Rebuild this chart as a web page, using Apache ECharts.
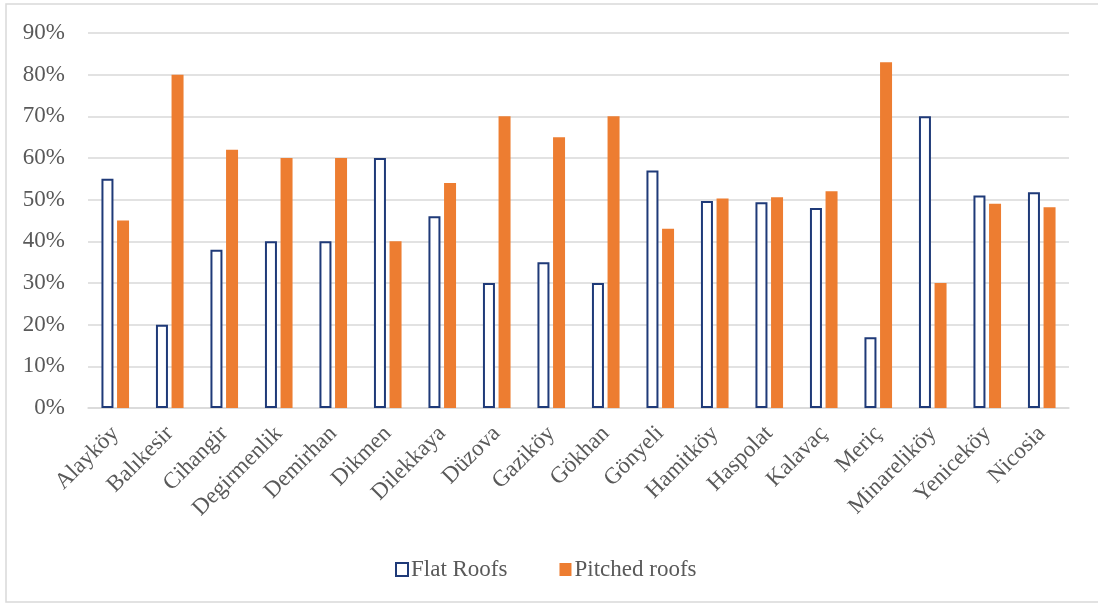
<!DOCTYPE html>
<html>
<head>
<meta charset="utf-8">
<script src="https://cdn.jsdelivr.net/npm/echarts@6/dist/echarts.min.js"></script>
<style>
  html, body { margin: 0; padding: 0; background: #fff; }
  #chart { width: 1098px; height: 604px; }
</style>
</head>
<body>
<div id="chart"></div>
<script>
// villages
var categories = ["Alayköy", "Balıkesir", "Cihangir", "Degirmenlik", "Demirhan", "Dikmen",
  "Dilekkaya", "Düzova", "Gaziköy", "Gökhan", "Gönyeli", "Hamitköy", "Haspolat",
  "Kalavaç", "Meriç", "Minareliköy", "Yeniceköy", "Nicosia"];
// shares in %
var flatRoofs = [55, 20, 38, 40, 40, 60, 46, 30, 35, 30, 57, 49.7, 49.4, 48, 17, 70, 51, 51.8];
var pitchedRoofs = [45, 80, 62, 60, 60, 40, 54, 70, 65, 70, 43, 50.3, 50.6, 52, 83, 30, 49, 48.2];
var yTicks = [0, 10, 20, 30, 40, 50, 60, 70, 80, 90];

var font = "'Liberation Serif', 'Times New Roman', serif";
var textColor = "#595959";

var myChart = echarts.init(document.getElementById("chart"));
var option = {
  animation: false,
  textStyle: { fontFamily: font },
  grid: { left: 88, right: 29, top: 33, bottom: 196 },
  // outer chart frame
  graphic: [{
    type: "rect",
    shape: { x: 6, y: 4, width: 1100, height: 598 },
    style: { fill: "none", stroke: "#d9d9d9", lineWidth: 1.5 },
    silent: true
  }],
  legend: {
    top: 553,
    left: 390,
    itemWidth: 12,
    itemHeight: 13,
    itemGap: 52,
    textStyle: { fontFamily: font, fontSize: 23, color: textColor, padding: [0, 0, 0, -2] },
    data: [
      { name: "Flat Roofs", icon: "rect" },
      { name: "Pitched roofs", icon: "rect" }
    ]
  },
  xAxis: {
    type: "category",
    data: categories,
    axisTick: { show: false },
    axisLine: { lineStyle: { color: "#d9d9d9", width: 1.5 } },
    axisLabel: {
      rotate: 45,
      interval: 0,
      margin: 22,
      fontFamily: font,
      fontSize: 23,
      color: textColor
    }
  },
  yAxis: {
    type: "value",
    min: yTicks[0],
    max: yTicks[yTicks.length - 1],
    interval: 10,
    axisLine: { show: false },
    axisTick: { show: false },
    axisLabel: {
      margin: 23,
      fontFamily: font,
      fontSize: 23,
      color: textColor,
      formatter: "{value}%"
    },
    splitLine: { lineStyle: { color: "#d9d9d9", width: 1.5 } }
  },
  series: [
    {
      name: "Flat Roofs",
      type: "bar",
      data: flatRoofs,
      barWidth: 12,
      barGap: "30%",
      itemStyle: { color: "#ffffff", borderColor: "#1f3a78", borderWidth: 2 }
    },
    {
      name: "Pitched roofs",
      type: "bar",
      data: pitchedRoofs,
      barWidth: 12,
      itemStyle: { color: "#ed7d31" }
    }
  ]
};
myChart.setOption(option);
</script>
</body>
</html>
